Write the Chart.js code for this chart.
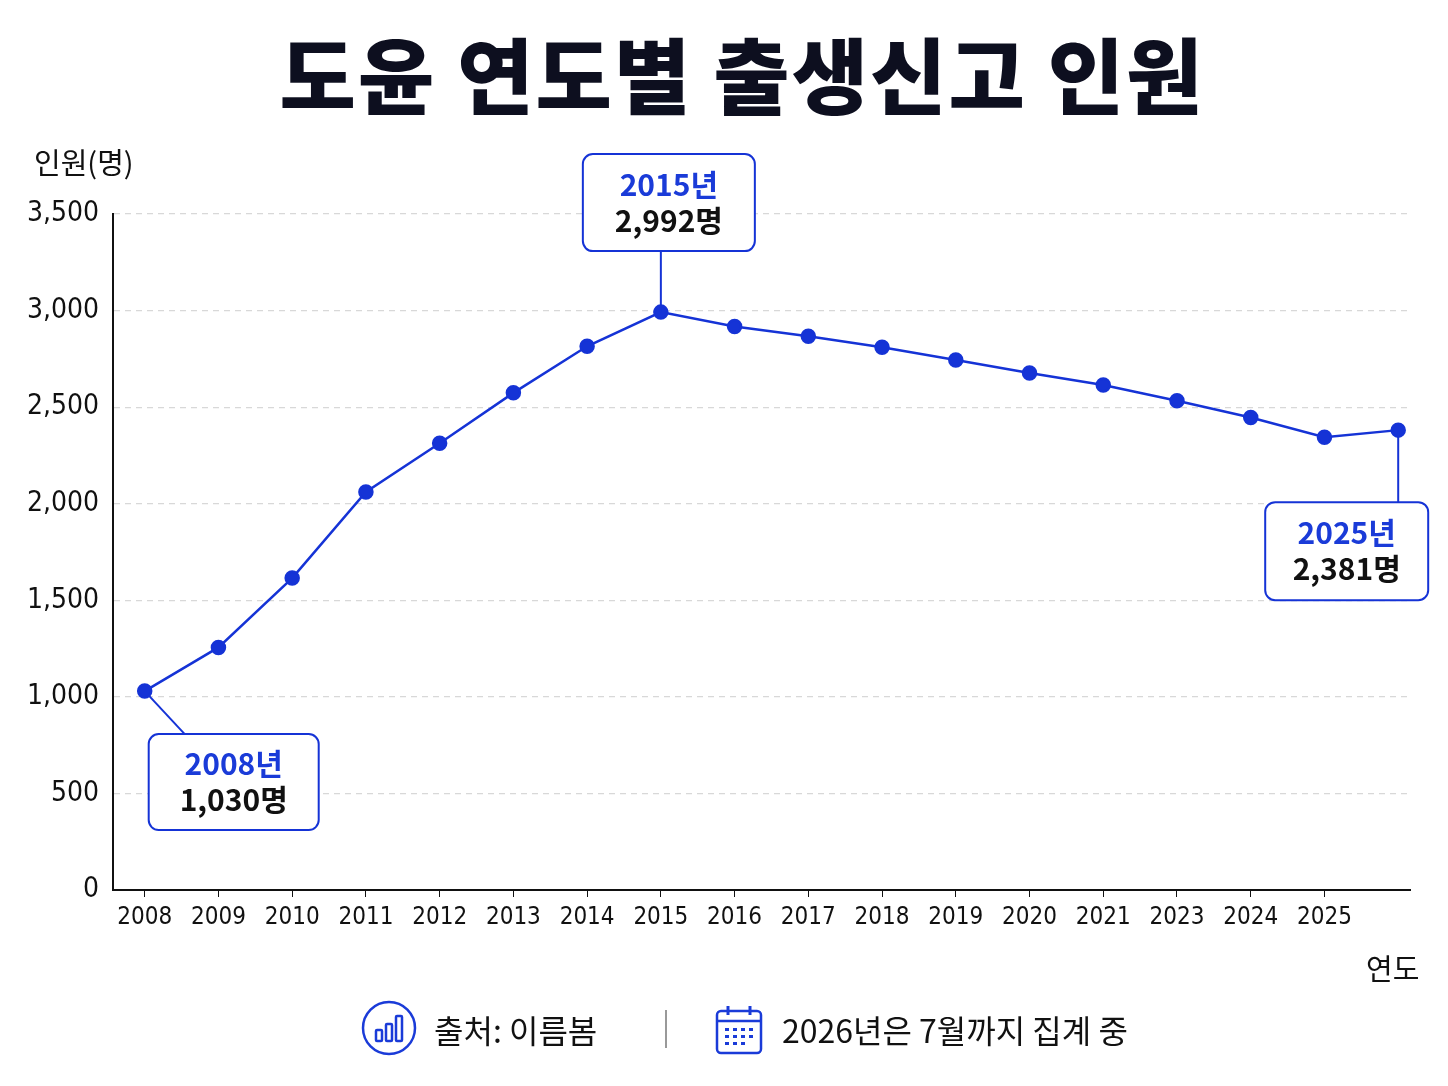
<!DOCTYPE html>
<html><head><meta charset="utf-8">
<script src="https://cdn.jsdelivr.net/npm/chart.js@4/dist/chart.umd.min.js"></script>
<style>
body{margin:0;background:#fff;font-family:"Noto Sans CJK KR","Noto Sans",sans-serif;}
#wrap{position:relative;width:1448px;height:1086px;overflow:hidden;}
canvas{position:absolute;left:0;top:0;}
.t{position:absolute;white-space:nowrap;color:#111;}
#title{left:0;width:1484px;text-align:center;top:12px;font-size:83px;font-weight:900;color:#0d0f1f;letter-spacing:2px;}
</style></head><body>
<div id="wrap">
<canvas id="c" width="1448" height="1086"></canvas>
<div id="title" class="t">도윤 연도별 출생신고 인원</div>
<div class="t" style="left:34px;top:140px;font-size:29px;">인원(명)</div>
<div class="t" style="left:1366px;top:946px;font-size:29px;">연도</div>
<svg style="position:absolute;left:361px;top:1000px" width="56" height="56" viewBox="0 0 56 56">
<circle cx="28" cy="28" r="26" fill="none" stroke="#1a3bd8" stroke-width="2.5"/>
<rect x="15" y="30" width="6" height="11" fill="none" stroke="#1a3bd8" stroke-width="2.5" rx="1"/>
<rect x="25" y="24" width="6" height="17" fill="none" stroke="#1a3bd8" stroke-width="2.5" rx="1"/>
<rect x="35" y="16" width="6" height="25" fill="none" stroke="#1a3bd8" stroke-width="2.5" rx="1"/>
</svg>
<div class="t" style="left:434px;top:1006px;font-size:32px;">출처: 이름봄</div>
<div style="position:absolute;left:665px;top:1010px;width:2px;height:38px;background:#999"></div>
<svg style="position:absolute;left:714px;top:1004px" width="50" height="52" viewBox="0 0 50 52">
<rect x="3" y="7" width="44" height="42" rx="4" fill="none" stroke="#1a3bd8" stroke-width="2.5"/>
<line x1="3" y1="17" x2="47" y2="17" stroke="#1a3bd8" stroke-width="2.5"/>
<line x1="14" y1="2" x2="14" y2="11" stroke="#1a3bd8" stroke-width="3"/>
<line x1="36" y1="2" x2="36" y2="11" stroke="#1a3bd8" stroke-width="3"/>
<g fill="#1a3bd8"><rect x="11" y="24" width="4" height="3"/><rect x="19" y="24" width="4" height="3"/><rect x="27" y="24" width="4" height="3"/><rect x="35" y="24" width="4" height="3"/>
<rect x="11" y="31" width="4" height="3"/><rect x="19" y="31" width="4" height="3"/><rect x="27" y="31" width="4" height="3"/><rect x="35" y="31" width="4" height="3"/>
<rect x="11" y="38" width="4" height="3"/><rect x="19" y="38" width="4" height="3"/><rect x="27" y="38" width="4" height="3"/></g>
</svg>
<div class="t" style="left:782px;top:1006px;font-size:32px;">2026년은 7월까지 집계 중</div>
</div>
<script>
const xLabels = ['2008','2009','2010','2011','2012','2013','2014','2015','2016','2017','2018','2019','2020','2021','2023','2024','2025',''];
const births = [1030,1256,1615,2061,2313,2574,2815,2992,2918,2867,2810,2744,2677,2615,2533,2446,2344,2381];
const yTicks = [0,500,1000,1500,2000,2500,3000,3500];
const callouts = [
  {i:0, year:'2008년', val:'1,030명', dx:4, dy:43, w:170, h:96, lead:[[0,0],[40,43]]},
  {i:7, year:'2015년', val:'2,992명', dx:-78, dy:-158, w:172, h:97, lead:[[0,0],[0,-61]]},
  {i:17, year:'2025년', val:'2,381명', dx:-133, dy:72, w:163, h:98, lead:[[0,0],[0,72]]}
];
const BLUE = '#1533d6';
const axisFont = "'Liberation Sans Narrow','DejaVu Sans Condensed',sans-serif";

const calloutPlugin = {
  id:'callouts',
  afterDatasetsDraw(chart){
    const ctx = chart.ctx, x = chart.scales.x, y = chart.scales.y;
    callouts.forEach(c=>{
      const px = x.getPixelForValue(c.i), py = y.getPixelForValue(births[c.i]);
      ctx.save();
      ctx.strokeStyle = BLUE; ctx.lineWidth = 2;
      ctx.beginPath(); ctx.moveTo(px+c.lead[0][0],py+c.lead[0][1]); ctx.lineTo(px+c.lead[1][0],py+c.lead[1][1]); ctx.stroke();
      const bx = px+c.dx, by = py+c.dy;
      ctx.fillStyle='#fff'; ctx.beginPath(); ctx.roundRect(bx,by,c.w,c.h,10); ctx.fill(); ctx.stroke();
      ctx.textAlign='center'; ctx.textBaseline='middle';
      ctx.fillStyle='#1a3bd8'; ctx.font="bold 30px 'Noto Sans CJK KR'";
      ctx.fillText(c.year,bx+c.w/2,by+30);
      ctx.fillStyle='#111'; ctx.fillText(c.val,bx+c.w/2,by+66);
      ctx.restore();
    });
  }
};

new Chart(document.getElementById('c'),{
  type:'line',
  data:{datasets:[{data:births.map((v,i)=>({x:i,y:v})),borderColor:BLUE,backgroundColor:BLUE,borderWidth:2.5,pointRadius:6.5,pointHoverRadius:6.5,tension:0}]},
  options:{
    responsive:false,animation:false,
    layout:{padding:{left:0,right:38,top:214,bottom:0}},
    plugins:{legend:{display:false},tooltip:{enabled:false}},
    scales:{
      x:{type:'linear',min:-0.43,max:17.16,
        afterBuildTicks(s){s.ticks=xLabels.map((l,i)=>({value:i})).filter((t,i)=>xLabels[i]!=='');},
        afterFit(s){s.height=196;},
        ticks:{color:'#111',font:{family:axisFont,size:24},padding:6,maxRotation:0,autoSkip:false,callback:v=>xLabels[v]},
        grid:{drawOnChartArea:false,color:'#111',tickLength:7},
        border:{color:'#111',width:2}},
      y:{min:0,max:3500,
        afterBuildTicks(s){s.ticks=yTicks.map(v=>({value:v}));},
        afterFit(s){s.width=113;},
        ticks:{color:'#111',font:{family:axisFont,size:28},padding:14,callback:v=>v.toLocaleString('en-US')},
        grid:{color:'#d8d8d8',tickLength:0,lineWidth:1.2},
        border:{color:'#111',width:2,dash:[6,5]}}
    }
  },
  plugins:[calloutPlugin]
});
</script>
</body></html>
